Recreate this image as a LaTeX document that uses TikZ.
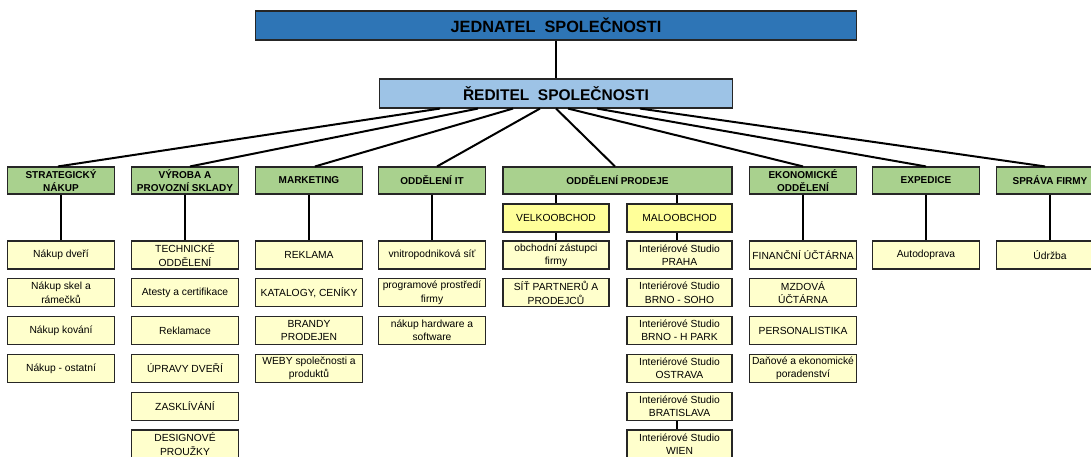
\documentclass[tikz,border=0pt]{standalone}
\usepackage{fontspec}
\setmainfont{Liberation Sans}
\usepackage{xcolor}
\usetikzlibrary{calc}

\definecolor{bossblue}{HTML}{2E75B6}
\definecolor{headblue}{HTML}{9DC3E6}
\definecolor{deptgreen}{HTML}{A9D18E}
\definecolor{unityellow}{HTML}{FFFFCC}
\definecolor{shopyellow}{HTML}{FFFF99}

\begin{document}
\begin{tikzpicture}[x=1pt,y=-1pt,
  box/.style={draw=black!85,line width=1.1pt,align=center,inner sep=1pt},
  topbox/.style={box,minimum height=29pt,font=\fontsize{15.5}{18}\selectfont\bfseries},
  deptbox/.style={box,fill=deptgreen,minimum width=107pt,minimum height=27pt,
    font=\fontsize{10}{12.3}\selectfont\bfseries},
  unitbox/.style={box,fill=unityellow,minimum width=107pt,minimum height=28pt,
    font=\fontsize{10.3}{13.3}\selectfont},
  shopbox/.style={unitbox,fill=shopyellow,minimum width=106pt},
  link/.style={line width=2pt}]

  % Page
  \useasboundingbox (0,0) rectangle (1091,457);
  \clip (0,0) rectangle (1091,457);

  % Top
  \node[topbox,fill=bossblue,minimum width=601pt,font=\fontsize{16.3}{18}\selectfont\bfseries] (jednatel) at (556,25.5) {JEDNATEL~~SPOLEČNOSTI};
  \node[topbox,fill=headblue,minimum width=353pt] (reditel) at (556,93.5) {ŘEDITEL~~SPOLEČNOSTI};
  \draw[link,line width=1.5pt] (jednatel) -- (reditel);

  % Departments
  \node[deptbox] (nakup) at (61,180.5) {STRATEGICKÝ\\NÁKUP};
  \node[deptbox] (vyroba) at (185,180.5) {VÝROBA A\\PROVOZNÍ SKLADY};
  \node[deptbox] (marketing) at (309,180.5) {MARKETING};
  \node[deptbox] (it) at (432,180.5) {ODDĚLENÍ IT};
  \node[deptbox,minimum width=229pt] (prodeje) at (617.5,180.5) {ODDĚLENÍ PRODEJE};
  \node[deptbox] (ekonom) at (803,180.5) {EKONOMICKÉ\\ODDĚLENÍ};
  \node[deptbox] (expedice) at (926,180.5) {EXPEDICE};
  \node[deptbox] (sprava) at (1050,180.5) {SPRÁVA FIRMY};

  % Fan from the director
  \draw[link] ([xshift=-116]reditel.south) -- ([xshift=-3]nakup.north);
  \draw[link] ([xshift=-78]reditel.south) -- ([xshift=5]vyroba.north);
  \draw[link] ([xshift=-43]reditel.south) -- ([xshift=6]marketing.north);
  \draw[link] ([xshift=-16]reditel.south) -- ([xshift=5]it.north);
  \draw[link] ([xshift=0]reditel.south) -- ([xshift=-2.5]prodeje.north);
  \draw[link] ([xshift=12]reditel.south) -- (ekonom.north);
  \draw[link] ([xshift=41]reditel.south) -- (expedice.north);
  \draw[link] ([xshift=84]reditel.south) -- ([xshift=-5]sprava.north);

  % Sales split
  \node[shopbox] (velko) at (556,218) {VELKOOBCHOD};
  \node[shopbox,minimum width=105pt] (malo) at (679.5,218) {MALOOBCHOD};
  \draw[link] (velko.north) -- (velko.north |- prodeje.south);
  \draw[link] ([xshift=-2.5]malo.north) -- ([xshift=-2.5]malo.north |- prodeje.south);

  % Units
  \foreach \t [count=\i] in {Nákup dveří, {Nákup skel a\\rámečků}, Nákup kování, Nákup - ostatní}
    \node[unitbox] (nakup-\i) at (61,{255+37.8*(\i-1)}) {\t};
  \foreach \t [count=\i] in {{TECHNICKÉ\\ODDĚLENÍ}, Atesty a certifikace, Reklamace, ÚPRAVY DVEŘÍ,
      ZASKLÍVÁNÍ, {DESIGNOVÉ\\PROUŽKY}}
    \node[unitbox] (vyroba-\i) at (185,{255+37.8*(\i-1)}) {\t};
  \foreach \t [count=\i] in {REKLAMA, {KATALOGY, CENÍKY}, {BRANDY\\PRODEJEN}, {WEBY společnosti a\\produktů}}
    \node[unitbox] (marketing-\i) at (309,{255+37.8*(\i-1)}) {\t};
  \foreach \t [count=\i] in {vnitropodniková síť, {programové prostředí\\firmy}, {nákup hardware a\\software}}
    \node[unitbox] (it-\i) at (432,{255+37.8*(\i-1)}) {\t};
  \foreach \t [count=\i] in {{obchodní zástupci\\firmy}, {SÍŤ PARTNERŮ A\\PRODEJCŮ}}
    \node[unitbox,minimum width=106pt] (velko-\i) at (556,{255+37.8*(\i-1)}) {\t};
  \foreach \t [count=\i] in {PRAHA, BRNO - SOHO, BRNO - H PARK, OSTRAVA, BRATISLAVA, WIEN}
    \node[unitbox,minimum width=105pt] (malo-\i) at (679.5,{255+37.8*(\i-1)}) {Interiérové Studio\\\t};
  \foreach \t [count=\i] in {FINANČNÍ ÚČTÁRNA, {MZDOVÁ\\ÚČTÁRNA}, PERSONALISTIKA, {Daňové a ekonomické\\poradenství}}
    \node[unitbox] (ekonom-\i) at (803,{255+37.8*(\i-1)}) {\t};
  \node[unitbox] (expedice-1) at (926,255) {Autodoprava};
  \node[unitbox] (sprava-1) at (1050,255) {Údržba};

  % Down links
  \foreach \d in {nakup,vyroba,marketing,it,velko,ekonom,expedice,sprava}
    \draw[link] (\d.south) -- (\d-1.north);
  \draw[link] ([xshift=-2.5]malo.south) -- ([xshift=-2.5]malo-1.north);
  \draw[link] ([xshift=-2.5]malo-5.south) -- ([xshift=-2.5]malo-6.north);
\end{tikzpicture}
\end{document}
